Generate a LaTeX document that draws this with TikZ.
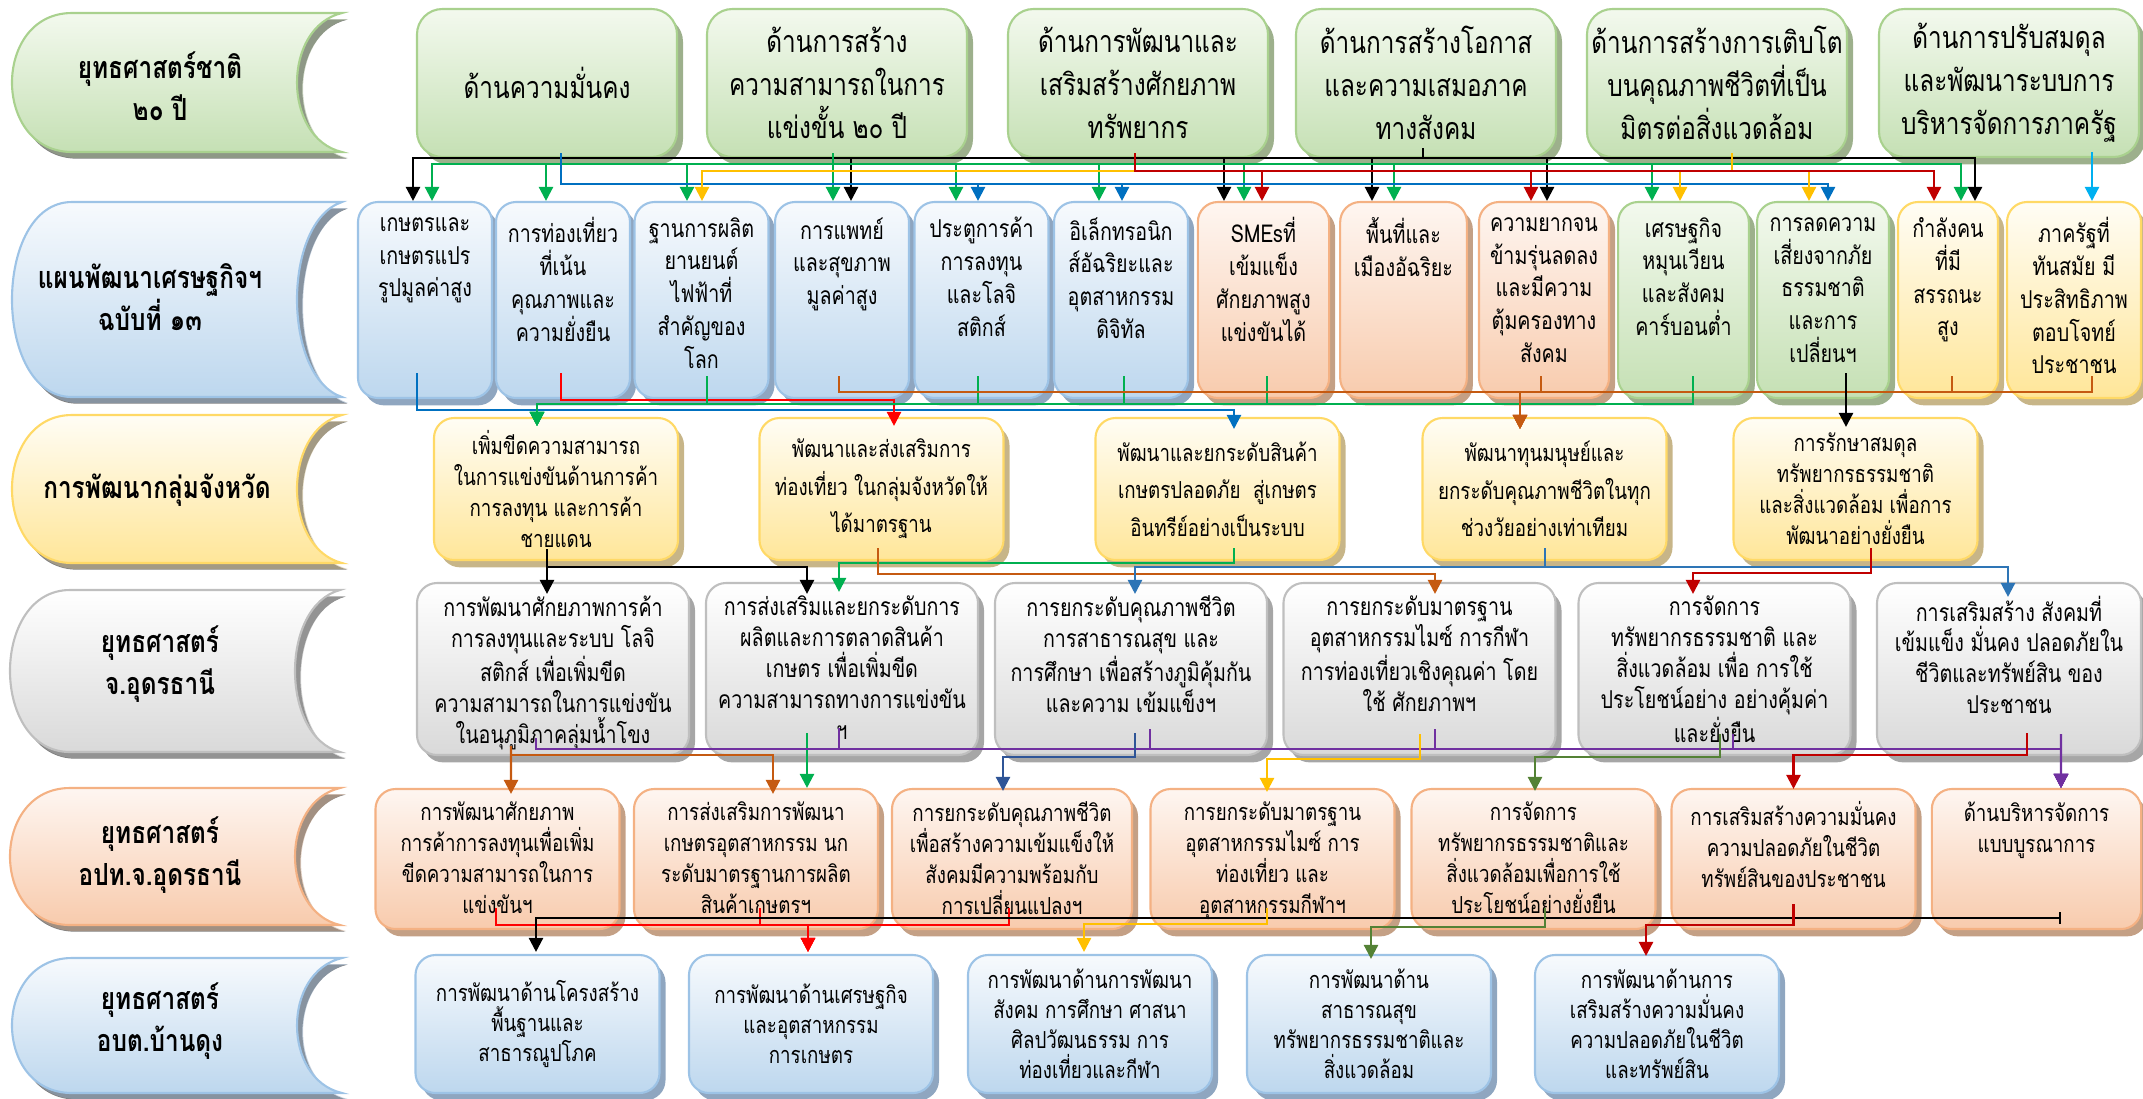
\documentclass[tikz,border=0pt]{standalone}
\usepackage{fontspec}
\setmainfont[Script=Thai, FakeStretch=0.8]{Loma}
\usetikzlibrary{positioning, arrows.meta, shadows, calc}
\definecolor{greenedge}{HTML}{A9D18E}
\definecolor{greentop}{HTML}{F3F9EE}
\definecolor{greenbot}{HTML}{C5E0B4}
\definecolor{greenshade}{HTML}{9DB08C}
\definecolor{blueedge}{HTML}{9DC3E6}
\definecolor{bluetop}{HTML}{F7FAFD}
\definecolor{bluebot}{HTML}{BDD7EE}
\definecolor{blueshade}{HTML}{8FA6C0}
\definecolor{orangeedge}{HTML}{F4B183}
\definecolor{orangetop}{HTML}{FEF6F1}
\definecolor{orangebot}{HTML}{F8CBAD}
\definecolor{orangeshade}{HTML}{C4A085}
\definecolor{yellowedge}{HTML}{FFD966}
\definecolor{yellowtop}{HTML}{FFFDF5}
\definecolor{yellowbot}{HTML}{FFE699}
\definecolor{yellowshade}{HTML}{C7B588}
\definecolor{grayedge}{HTML}{BFBFBF}
\definecolor{graytop}{HTML}{FFFFFF}
\definecolor{graybot}{HTML}{D9D9D9}
\definecolor{grayshade}{HTML}{A6A6A6}
\definecolor{linegreen}{HTML}{00B050}
\definecolor{lineyellow}{HTML}{FFC000}
\definecolor{lineblue}{HTML}{0070C0}
\definecolor{linered}{HTML}{C00000}
\definecolor{linebright}{HTML}{FF0000}
\definecolor{linecyan}{HTML}{00B0F0}
\definecolor{lineorange}{HTML}{C55A11}
\definecolor{linepurple}{HTML}{7030A0}
\definecolor{linenavy}{HTML}{2F5597}
\definecolor{linemid}{HTML}{2E75B6}
\definecolor{lineolive}{HTML}{548235}

\begin{document}
\begin{tikzpicture}
    [
        x=0.15mm, y=-0.15mm,
        box/.style={draw, line width=0.9pt, rounded corners=3mm, inner sep=1pt, align=center},
        green_box/.style={box, draw=greenedge, top color=greentop, bottom color=greenbot, drop shadow={shadow xshift=0.9mm, shadow yshift=-1.1mm, fill=greenshade, opacity=1}},
        blue_box/.style={box, draw=blueedge, top color=bluetop, bottom color=bluebot, drop shadow={shadow xshift=0.9mm, shadow yshift=-1.1mm, fill=blueshade, opacity=1}},
        orange_box/.style={box, draw=orangeedge, top color=orangetop, bottom color=orangebot, drop shadow={shadow xshift=0.9mm, shadow yshift=-1.1mm, fill=orangeshade, opacity=1}},
        yellow_box/.style={box, draw=yellowedge, top color=yellowtop, bottom color=yellowbot, drop shadow={shadow xshift=0.9mm, shadow yshift=-1.1mm, fill=yellowshade, opacity=1}},
        gray_box/.style={box, draw=grayedge, top color=graytop, bottom color=graybot, drop shadow={shadow xshift=0.9mm, shadow yshift=-1.1mm, fill=grayshade, opacity=1}},
        tab/.style={line width=0.9pt, drop shadow={shadow xshift=0.8mm, shadow yshift=-1mm, opacity=1}},
        green_tab/.style={tab, draw=greenedge, top color=greentop, bottom color=greenbot, drop shadow={fill=greenshade}},
        blue_tab/.style={tab, draw=blueedge, top color=bluetop, bottom color=bluebot, drop shadow={fill=blueshade}},
        yellow_tab/.style={tab, draw=yellowedge, top color=yellowtop, bottom color=yellowbot, drop shadow={fill=yellowshade}},
        gray_tab/.style={tab, draw=grayedge, top color=graytop, bottom color=graybot, drop shadow={fill=grayshade}},
        orange_tab/.style={tab, draw=orangeedge, top color=orangetop, bottom color=orangebot, drop shadow={fill=orangeshade}},
        tab_text/.style={align=center, font=\bfseries\fontsize{13}{18}\selectfont},
        row1/.style={minimum width=39mm, minimum height=22.2mm, rounded corners=3.8mm, font=\fontsize{13}{18.3}\selectfont},
        row2/.style={minimum width=20.1mm, minimum height=29.4mm},
        row2_text/.style={inner sep=0pt, align=center, font=\fontsize{10.5}{14}\selectfont, execute at begin node=\rule{0pt}{1.1em}},
        row3/.style={minimum width=36.6mm, minimum height=21.3mm, font=\fontsize{10}{13.2}\selectfont},
        row3_wide/.style={row3, font=\fontsize{10}{16}\selectfont},
        row4/.style={minimum width=40.8mm, minimum height=25.8mm},
        row4_text/.style={inner sep=0pt, align=center, font=\fontsize{10.5}{13.2}\selectfont, execute at begin node=\rule{0pt}{1.1em}},
        row5/.style={minimum width=36.6mm, minimum height=21mm},
        row5_text/.style={inner sep=0pt, align=center, font=\fontsize{10}{13.2}\selectfont, execute at begin node=\rule{0pt}{1.1em}},
        row6/.style={minimum width=36.6mm, minimum height=20.7mm, font=\fontsize{10}{12.8}\selectfont},
        link/.style={line width=1pt, -{Triangle[length=6pt, width=6pt]}},
        black_link/.style={link, draw=black},
        green_link/.style={link, draw=linegreen},
        yellow_link/.style={link, draw=lineyellow},
        blue_link/.style={link, draw=lineblue},
        red_link/.style={link, draw=linered},
        bright_link/.style={link, draw=linebright},
        cyan_link/.style={link, draw=linecyan},
        orange_link/.style={link, draw=lineorange},
        purple_link/.style={link, draw=linepurple},
        navy_link/.style={link, draw=linenavy},
        mid_link/.style={link, draw=linemid},
        olive_link/.style={link, draw=lineolive},
    ]
        \useasboundingbox (0,0) rectangle (2143,1098);

        % row labels
        \path[green_tab] (72,13) -- (342,13) .. controls (282,27) and (282,138) .. (342,152) -- (72,152) .. controls (-8,152) and (-8,13) .. (72,13) -- cycle;
        \path[blue_tab] (72,202) -- (342,202) .. controls (282,222) and (282,377) .. (342,397) -- (72,397) .. controls (-8,397) and (-8,202) .. (72,202) -- cycle;
        \path[yellow_tab] (72,415) -- (342,415) .. controls (282,430) and (282,548) .. (342,563) -- (72,563) .. controls (-8,563) and (-8,415) .. (72,415) -- cycle;
        \path[gray_tab] (70,590) -- (340,590) .. controls (280,606) and (280,736) .. (340,752) -- (70,752) .. controls (-10,752) and (-10,590) .. (70,590) -- cycle;
        \path[orange_tab] (70,788) -- (340,788) .. controls (280,802) and (280,911) .. (340,925) -- (70,925) .. controls (-10,925) and (-10,788) .. (70,788) -- cycle;
        \path[blue_tab] (72,958) -- (342,958) .. controls (282,972) and (282,1079) .. (342,1093) -- (72,1093) .. controls (-8,1093) and (-8,958) .. (72,958) -- cycle;
        \node[tab_text] (L1) at (160,86) {ยุทธศาสตร์ชาติ\\๒๐ ปี};
        \node[tab_text] (L2) at (150,297) {แผนพัฒนาเศรษฐกิจฯ\\ฉบับที่ ๑๓};
        \node[tab_text] (L3) at (157,490) {การพัฒนากลุ่มจังหวัด};
        \node[tab_text] (L4) at (160,664) {ยุทธศาสตร์\\จ.อุดรธานี};
        \node[tab_text] (L5) at (160,855) {ยุทธศาสตร์\\อปท.จ.อุดรธานี};
        \node[tab_text] (L6) at (160,1021) {ยุทธศาสตร์\\อบต.บ้านดุง};

        % row 1
        \node[green_box, row1] (G1) at (547,83) {ด้านความมั่นคง};
        \node[green_box, row1] (G2) at (837,83) {ด้านการสร้าง\\ความสามารถในการ\\แข่งขั้น ๒๐ ปี};
        \node[green_box, row1] (G3) at (1138,83) {ด้านการพัฒนาและ\\เสริมสร้างศักยภาพ\\ทรัพยากร};
        \node[green_box, row1] (G4) at (1426,83) {ด้านการสร้างโอกาส\\และความเสมอภาค\\ทางสังคม};
        \node[green_box, row1] (G5) at (1717,83) {ด้านการสร้างการเติบโต\\บนคุณภาพชีวิตที่เป็น\\มิตรต่อสิ่งแวดล้อม};
        \node[green_box, row1] (G6) at (2009,83) {ด้านการปรับสมดุล\\และพัฒนาระบบการ\\บริหารจัดการภาครัฐ};

        % row 2
        \node[blue_box, row2] (B1) at (425,300) {};
        \node[blue_box, row2] (B2) at (563,300) {};
        \node[blue_box, row2] (B3) at (701.5,300) {};
        \node[blue_box, row2] (B4) at (842,300) {};
        \node[blue_box, row2] (B5) at (981.5,300) {};
        \node[blue_box, row2] (B6) at (1121,300) {};
        \node[orange_box, row2, minimum width=19.7mm] (B7) at (1263.5,300) {};
        \node[orange_box, row2, minimum width=19mm] (B8) at (1403.5,300) {};
        \node[orange_box, row2, minimum width=19.5mm] (B9) at (1544,300) {};
        \node[green_box, row2, minimum width=19.6mm] (B10) at (1683.5,300) {};
        \node[green_box, row2, minimum width=19.8mm] (B11) at (1823,300) {};
        \node[yellow_box, row2, minimum width=15mm] (B12) at (1948,300) {};
        \node[yellow_box, row2] (B13) at (2074,300) {};
        \node[row2_text, below=2.4mm of B1.north] (B1t) {เกษตรและ\\เกษตรแปร\\รูปมูลค่าสูง};
        \node[row2_text, below=2.4mm of B2.north] (B2t) {การท่องเที่ยว\\ที่เน้น\\คุณภาพและ\\ความยั่งยืน};
        \node[row2_text, below=2.4mm of B3.north] (B3t) {ฐานการผลิต\\ยานยนต์\\ไฟฟ้าที่\\สำคัญของ\\โลก};
        \node[row2_text, below=2.4mm of B4.north] (B4t) {การแพทย์\\และสุขภาพ\\มูลค่าสูง};
        \node[row2_text, below=2.4mm of B5.north] (B5t) {ประตูการค้า\\การลงทุน\\และโลจิ\\สติกส์};
        \node[row2_text, below=2.4mm of B6.north] (B6t) {อิเล็กทรอนิก\\ส์อัฉริยะและ\\อุตสาหกรรม\\ดิจิทัล};
        \node[row2_text, below=2.4mm of B7.north] (B7t) {SMEsที่\\เข้มแข็ง\\ศักยภาพสูง\\แข่งขันได้};
        \node[row2_text, below=2.4mm of B8.north] (B8t) {พื้นที่และ\\เมืองอัฉริยะ};
        \node[row2_text, below=2.4mm of B9.north] (B9t) {ความยากจน\\ข้ามรุ่นลดลง\\และมีความ\\ตุ้มครองทาง\\สังคม};
        \node[row2_text, below=2.4mm of B10.north] (B10t) {เศรษฐกิจ\\หมุนเวียน\\และสังคม\\คาร์บอนต่ำ};
        \node[row2_text, below=2.4mm of B11.north] (B11t) {การลดความ\\เสี่ยงจากภัย\\ธรรมชาติ\\และการ\\เปลี่ยนฯ};
        \node[row2_text, below=2.4mm of B12.north] (B12t) {กำลังคน\\ที่มี\\สรรถนะ\\สูง};
        \node[row2_text, below=2.4mm of B13.north] (B13t) {ภาครัฐที่\\ทันสมัย มี\\ประสิทธิภาพ\\ตอบโจทย์\\ประชาชน};

        % row 3
        \node[yellow_box, row3] (P1) at (556,489) {เพิ่มขีดความสามารถ\\ในการแข่งขันด้านการค้า\\การลงทุน และการค้า\\ชายแดน};
        \node[yellow_box, row3_wide] (P2) at (881.5,489) {พัฒนาและส่งเสริมการ\\ท่องเที่ยว ในกลุ่มจังหวัดให้\\ได้มาตรฐาน};
        \node[yellow_box, row3_wide] (P3) at (1217.5,489) {พัฒนาและยกระดับสินค้า\\เกษตรปลอดภัย~ สู่เกษตร\\อินทรีย์อย่างเป็นระบบ};
        \node[yellow_box, row3_wide] (P4) at (1544.5,489) {พัฒนาทุนมนุษย์และ\\ยกระดับคุณภาพชีวิตในทุก\\ช่วงวัยอย่างเท่าเทียม};
        \node[yellow_box, row3] (P5) at (1855.5,489) {การรักษาสมดุล\\ทรัพยากรธรรมชาติ\\และสิ่งแวดล้อม เพื่อการ\\พัฒนาอย่างยั่งยืน};

        % row 4
        \node[gray_box, row4] (S1) at (553,669) {};
        \node[gray_box, row4] (S2) at (842,669) {};
        \node[gray_box, row4] (S3) at (1131,669) {};
        \node[gray_box, row4] (S4) at (1419.5,669) {};
        \node[gray_box, row4] (S5) at (1714.5,669) {};
        \node[gray_box, row4, minimum width=39.6mm] (S6) at (2009,669) {};
        \node[row4_text, below=2mm of S1.north] (S1t) {การพัฒนาศักยภาพการค้า\\การลงทุนและระบบ โลจิ\\สติกส์ เพื่อเพิ่มขีด\\ความสามารถในการแข่งขัน\\ในอนุภูมิภาคลุ่มน้ำโขง};
        \node[row4_text, below=2mm of S2.north] (S2t) {การส่งเสริมและยกระดับการ\\ผลิตและการตลาดสินค้า\\เกษตร เพื่อเพิ่มขีด\\ความสามารถทางการแข่งขัน\\ฯ};
        \node[row4_text, below=2mm of S3.north] (S3t) {การยกระดับคุณภาพชีวิต\\การสาธารณสุข และ\\การศึกษา เพื่อสร้างภูมิคุ้มกัน\\และความ เข้มแข็งฯ};
        \node[row4_text, below=2mm of S4.north] (S4t) {การยกระดับมาตรฐาน\\อุตสาหกรรมไมซ์ การกีฬา\\การท่องเที่ยวเชิงคุณค่า โดย\\ใช้ ศักยภาพฯ};
        \node[row4_text, below=2mm of S5.north] (S5t) {การจัดการ\\ทรัพยากรธรรมชาติ และ\\สิ่งแวดล้อม เพื่อ การใช้\\ประโยชน์อย่าง อย่างคุ้มค่า\\และยั่งยืน};
        \node[row4_text, below=2mm of S6.north] (S6t) {การเสริมสร้าง สังคมที่\\เข้มแข็ง มั่นคง ปลอดภัยใน\\ชีวิตและทรัพย์สิน ของ\\ประชาชน};

        % row 5
        \node[orange_box, row5] (T1) at (497.5,859) {};
        \node[orange_box, row5] (T2) at (756,859) {};
        \node[orange_box, row5, minimum width=36mm] (T3) at (1012,859) {};
        \node[orange_box, row5] (T4) at (1272.5,859) {};
        \node[orange_box, row5] (T5) at (1533.5,859) {};
        \node[orange_box, row5] (T6) at (1793.5,859) {};
        \node[orange_box, row5, minimum width=31.4mm] (T7) at (2036.5,859) {};
        \node[row5_text, below=2mm of T1.north] (T1t) {การพัฒนาศักยภาพ\\การค้าการลงทุนเพื่อเพิ่ม\\ขีดความสามารถในการ\\แข่งขันฯ};
        \node[row5_text, below=2mm of T2.north] (T2t) {การส่งเสริมการพัฒนา\\เกษตรอุตสาหกรรม นก\\ระดับมาตรฐานการผลิต\\สินค้าเกษตรฯ};
        \node[row5_text, below=2mm of T3.north] (T3t) {การยกระดับคุณภาพชีวิต\\เพื่อสร้างความเข้มแข็งให้\\สังคมมีความพร้อมกับ\\การเปลี่ยนแปลงฯ};
        \node[row5_text, below=2mm of T4.north] (T4t) {การยกระดับมาตรฐาน\\อุตสาหกรรมไมซ์ การ\\ท่องเที่ยว และ\\อุตสาหกรรมกีฬาฯ};
        \node[row5_text, below=2mm of T5.north] (T5t) {การจัดการ\\ทรัพยากรธรรมชาติและ\\สิ่งแวดล้อมเพื่อการใช้\\ประโยชน์อย่างยั่งยืน};
        \node[row5_text, below=2mm of T6.north] (T6t) {การเสริมสร้างความมั่นคง\\ความปลอดภัยในชีวิต\\ทรัพย์สินของประชาชน};
        \node[row5_text, below=2mm of T7.north] (T7t) {ด้านบริหารจัดการ\\แบบบูรณาการ};

        % row 6
        \node[blue_box, row6] (U1) at (537.5,1024) {การพัฒนาด้านโครงสร้าง\\พื้นฐานและ\\สาธารณูปโภค};
        \node[blue_box, row6] (U2) at (811,1024) {การพัฒนาด้านเศรษฐกิจ\\และอุตสาหกรรม\\การเกษตร};
        \node[blue_box, row6] (U3) at (1090,1024) {การพัฒนาด้านการพัฒนา\\สังคม การศึกษา ศาสนา\\ศิลปวัฒนธรรม การ\\ท่องเที่ยวและกีฬา};
        \node[blue_box, row6] (U4) at (1369,1024) {การพัฒนาด้าน\\สาธารณสุข\\ทรัพยากรธรรมชาติและ\\สิ่งแวดล้อม};
        \node[blue_box, row6] (U5) at (1657,1024) {การพัฒนาด้านการ\\เสริมสร้างความมั่นคง\\ความปลอดภัยในชีวิต\\และทรัพย์สิน};

        % row 1 to row 2
        \draw[black_link] ($(G4.south)+(-3,-10)$) -- ++(0,10) -| ($(B1.north)+(-12,0)$);
        \draw[black_link] ($(G4.south)+(-3,-10)$) -- ++(0,10) -| ($(B4.north)+(9,0)$);
        \draw[black_link] ($(G4.south)+(-3,-10)$) -- ++(0,10) -| ($(B7.north)+(-39.5,0)$);
        \draw[black_link] ($(G4.south)+(-3,-10)$) -- ++(0,10) -| ($(B8.north)+(-31.5,0)$);
        \draw[black_link] ($(G4.south)+(-3,-10)$) -- ++(0,10) -| ($(B9.north)+(3,0)$);
        \draw[black_link] ($(G4.south)+(-3,-10)$) -- ++(0,10) -| ($(B12.north)+(27,0)$);
        \draw[green_link] ($(G2.south)+(-4,-5)$) -- ++(0,11) -| ($(B1.north)+(7,0)$);
        \draw[green_link] ($(G2.south)+(-4,-5)$) -- ++(0,11) -| ($(B2.north)+(-17,0)$);
        \draw[green_link] ($(G2.south)+(-4,-5)$) -- ++(0,11) -| ($(B3.north)+(-14.5,0)$);
        \draw[green_link] ($(G2.south)+(-4,-5)$) -- ++(0,11) -| ($(B4.north)+(-9,0)$);
        \draw[green_link] ($(G2.south)+(-4,-5)$) -- ++(0,11) -| ($(B5.north)+(-25.5,0)$);
        \draw[green_link] ($(G2.south)+(-4,-5)$) -- ++(0,11) -| ($(B6.north)+(-22,0)$);
        \draw[green_link] ($(G2.south)+(-4,-5)$) -- ++(0,11) -| ($(B7.north)+(-19.5,0)$);
        \draw[green_link] ($(G2.south)+(-4,-5)$) -- ++(0,11) -| ($(B8.north)+(-9.5,0)$);
        \draw[green_link] ($(G2.south)+(-4,-5)$) -- ++(0,11) -| ($(B10.north)+(-31.5,0)$);
        \draw[green_link] ($(G2.south)+(-4,-5)$) -- ++(0,11) -| ($(B12.north)+(13,0)$);
        \draw[blue_link] ($(G1.south)+(14,-5)$) -- ++(0,31) -| ($(B5.north)+(-3.5,0)$);
        \draw[blue_link] ($(G1.south)+(14,-5)$) -- ++(0,31) -| ($(B6.north)+(1,0)$);
        \draw[blue_link] ($(G1.south)+(14,-5)$) -- ++(0,31) -| ($(B11.north)+(5,0)$);
        \draw[yellow_link] ($(G5.south)+(15,-5)$) -- ++(0,18) -| ($(B3.north)+(0.5,0)$);
        \draw[yellow_link] ($(G5.south)+(15,-5)$) -- ++(0,18) -| ($(B10.north)+(-3.5,0)$);
        \draw[yellow_link] ($(G5.south)+(15,-5)$) -- ++(0,18) -| ($(B11.north)+(-14,0)$);
        \draw[red_link] ($(G3.south)+(-3,-5)$) -- ++(0,18) -| ($(B7.north)+(-1.5,0)$);
        \draw[red_link] ($(G3.south)+(-3,-5)$) -- ++(0,18) -| ($(B9.north)+(-13,0)$);
        \draw[red_link] ($(G3.south)+(-3,-5)$) -- ++(0,18) -| ($(B12.north)+(-14,0)$);
        \draw[cyan_link] ($(G6.south)+(83,-6)$) -- ($(B13.north)+(18,0)$);

        % row 2 to row 3
        \draw[blue_link] ($(B1.south)+(-8,-26)$) -- ++(0,37) -| ($(P3.north)+(16.5,12)$);
        \draw[bright_link] ($(B2.south)+(-2,-26)$) -- ++(0,27) -| ($(P2.north)+(12.5,9)$);
        \draw[green_link] ($(B3.south)+(5.5,-23)$) -- ++(0,28) -| ($(P1.north)+(-19,9)$);
        \draw[green_link] ($(B5.south)+(-3.5,-23)$) -- ++(0,28) -| ($(P1.north)+(-19,9)$);
        \draw[green_link] ($(B6.south)+(3,-23)$) -- ++(0,28) -| ($(P1.north)+(-19,9)$);
        \draw[green_link] ($(B7.south)+(3.5,-23)$) -- ++(0,28) -| ($(P1.north)+(-19,9)$);
        \draw[green_link] ($(B10.south)+(9.5,-23)$) -- ++(0,28) -| ($(P1.north)+(-19,9)$);
        \draw[orange_link] ($(B4.south)+(-3,-23)$) -- ++(0,16) -| ($(P4.north)+(-24.5,12)$);
        \draw[orange_link] ($(B9.south)+(-3,-23)$) -- ++(0,16) -| ($(P4.north)+(-24.5,12)$);
        \draw[orange_link] ($(B12.south)+(4,-23)$) -- ++(0,16) -| ($(P4.north)+(-24.5,12)$);
        \draw[orange_link] ($(B13.south)+(18,-23)$) -- ++(0,16) -| ($(P4.north)+(-24.5,12)$);
        \draw[black_link] ($(B11.south)+(23,-26)$) -- ($(P5.north)+(-9.5,10)$);

        % row 3 to row 4
        \draw[black_link] ($(P1.south)+(-9,-12)$) -- ($(S1.north)+(-6,12)$);
        \draw[black_link] ($(P1.south)+(-9,-12)$) -- ++(0,18) -| ($(S2.north)+(-35,12)$);
        \draw[green_link] ($(P3.south)+(16.5,-13)$) -- ++(0,15) -| ($(S2.north)+(-3,10)$);
        \draw[orange_link] ($(P2.south)+(-3.5,-13)$) -- ++(0,26) -| ($(S4.north)+(15.5,12)$);
        \draw[mid_link] ($(P4.south)+(0.5,-13)$) -- ++(0,19) -| ($(S3.north)+(4,12)$);
        \draw[mid_link] ($(P4.south)+(0.5,-13)$) -- ++(0,19) -| ($(S6.north)+(-1,15)$);
        \draw[red_link] ($(P5.south)+(15.5,-13)$) -- ++(0,25) -| ($(S5.north)+(-21.5,12)$);

        % row 4 to row 5
        \draw[orange_link] ($(S1.south)+(-42,-10)$) -- ($(T1.north)+(13.5,6)$);
        \draw[orange_link] ($(S1.south)+(-42,-10)$) -- ++(0,9) -| ($(T2.north)+(17,6)$);
        \draw[green_link] ($(S2.south)+(-35,-23)$) -- ($(T2.north)+(51,0)$);
        \draw[purple_link] ($(S1.south)+(-17,-18)$) -- ++(0,11) -| ($(T7.north)+(24.5,0)$);
        \draw[purple_link] ($(S2.south)+(-3,-28)$) -- ++(0,21) -| ($(T7.north)+(24.5,0)$);
        \draw[purple_link] ($(S3.south)+(19,-27)$) -- ++(0,20) -| ($(T7.north)+(24.5,0)$);
        \draw[purple_link] ($(S4.south)+(15.5,-27)$) -- ++(0,20) -| ($(T7.north)+(24.5,0)$);
        \draw[purple_link] ($(S5.south)+(18.5,-22)$) -- ++(0,15) -| ($(T7.north)+(24.5,0)$);
        \draw[purple_link] ($(S6.south)+(52,-22)$) -- ($(T7.north)+(24.5,0)$);
        \draw[navy_link] ($(S3.south)+(4,-23)$) -- ++(0,24) -| ($(T3.north)+(-9,3)$);
        \draw[yellow_link] ($(S4.south)+(0.5,-22)$) -- ++(0,25) -| ($(T4.north)+(-5.5,4)$);
        \draw[olive_link] ($(S5.south)+(5.5,-22)$) -- ++(0,23) -| ($(T5.north)+(1.5,3)$);
        \draw[red_link] ($(S6.south)+(18,-23)$) -- ++(0,22) -| ($(T6.north)+(0,1)$);

        % row 5 to row 6
        \draw[bright_link] ($(T1.south)+(-1.5,-22)$) -- ++(0,17) -| ($(U2.north)+(-3,-2)$);
        \draw[bright_link] ($(T2.south)+(4,-22)$) -- ++(0,17) -| ($(U2.north)+(-3,-2)$);
        \draw[bright_link] ($(T3.south)+(-3,-22)$) -- ++(0,17) -| ($(U2.north)+(-3,-2)$);
        \draw[black_link, {Bar[width=5pt]}-{Triangle[length=6pt, width=6pt]}] ($(T7.south)+(24.5,-12)$) -| ($(U1.north)+(-1.5,-2)$);
        \draw[yellow_link] ($(T4.south)+(-5.5,-22)$) -- ++(0,16) -| ($(U3.north)+(-6,-2)$);
        \draw[olive_link] ($(T5.south)+(11.5,-22)$) -- ++(0,19) -| ($(U4.north)+(2,5)$);
        \draw[red_link] ($(T6.south)+(0,-26)$) -- ++(0,21) -| ($(U5.north)+(-11,2)$);
    \end{tikzpicture}
\end{document}
